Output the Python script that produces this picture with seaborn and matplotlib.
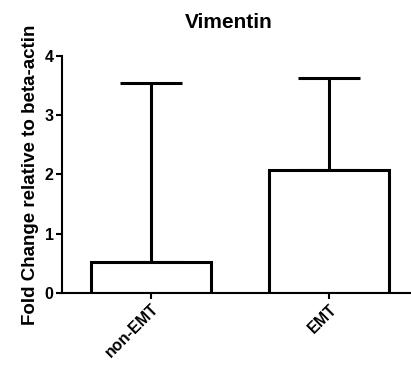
import matplotlib
matplotlib.use("Agg")
import matplotlib.pyplot as plt
import seaborn as sns
import pandas as pd

# Vimentin expression, mean with upper error
groups = ["non-EMT", "EMT"]
fold_change = [0.52, 2.08]
err_upper = [3.03, 1.55]
y_ticks = [0, 1, 2, 3, 4]

sns.set_theme(style="ticks")
plt.rcParams["font.family"] = ["Liberation Sans", "DejaVu Sans"]
plt.rcParams["font.weight"] = "bold"
for key in ("text.color", "axes.labelcolor", "xtick.color", "ytick.color",
            "axes.edgecolor"):
    plt.rcParams[key] = "black"

df = pd.DataFrame({"group": groups, "fold": fold_change})

fig = plt.figure(figsize=(4.11, 3.77), dpi=100)
ax = fig.add_axes([62 / 411, 1 - 293 / 377, 1 - 62 / 411, (293 - 56) / 377])

sns.barplot(data=df, x="group", y="fold", order=groups, color="white",
            edgecolor="black", linewidth=2.2, width=0.67, errorbar=None,
            ax=ax, zorder=2)
for patch in ax.patches:
    patch.set_facecolor("white")

ax.errorbar(range(len(groups)), fold_change,
            yerr=[[0] * len(groups), err_upper],
            fmt="none", ecolor="black", elinewidth=2.2,
            capsize=22, capthick=2.2, zorder=1)

ax.set_xlim(-0.5, 1.46)
ax.set_ylim(0, 4)
ax.set_yticks(y_ticks)
ax.set_yticklabels([str(t) for t in y_ticks], fontsize=11.5,
                   fontweight="bold", color="black")
ax.set_xticks(range(len(groups)))
ax.set_xticklabels(groups, rotation=45, ha="right", rotation_mode="anchor",
                   fontsize=11.5, fontweight="bold", color="black")
ax.set_xlabel("")
ax.set_ylabel("Fold Change relative to beta-actin", fontsize=13.5,
              fontweight="bold", labelpad=4, color="black")
ax.set_title("Vimentin", fontsize=15, fontweight="bold", x=0.478, pad=20,
             color="black")

sns.despine(ax=ax)
for s in ("left", "bottom"):
    ax.spines[s].set_linewidth(1.5)
    ax.spines[s].set_color("black")
ax.tick_params(axis="both", width=1.5, length=4, color="black", pad=2)

fig.savefig("out.png", dpi=100)
